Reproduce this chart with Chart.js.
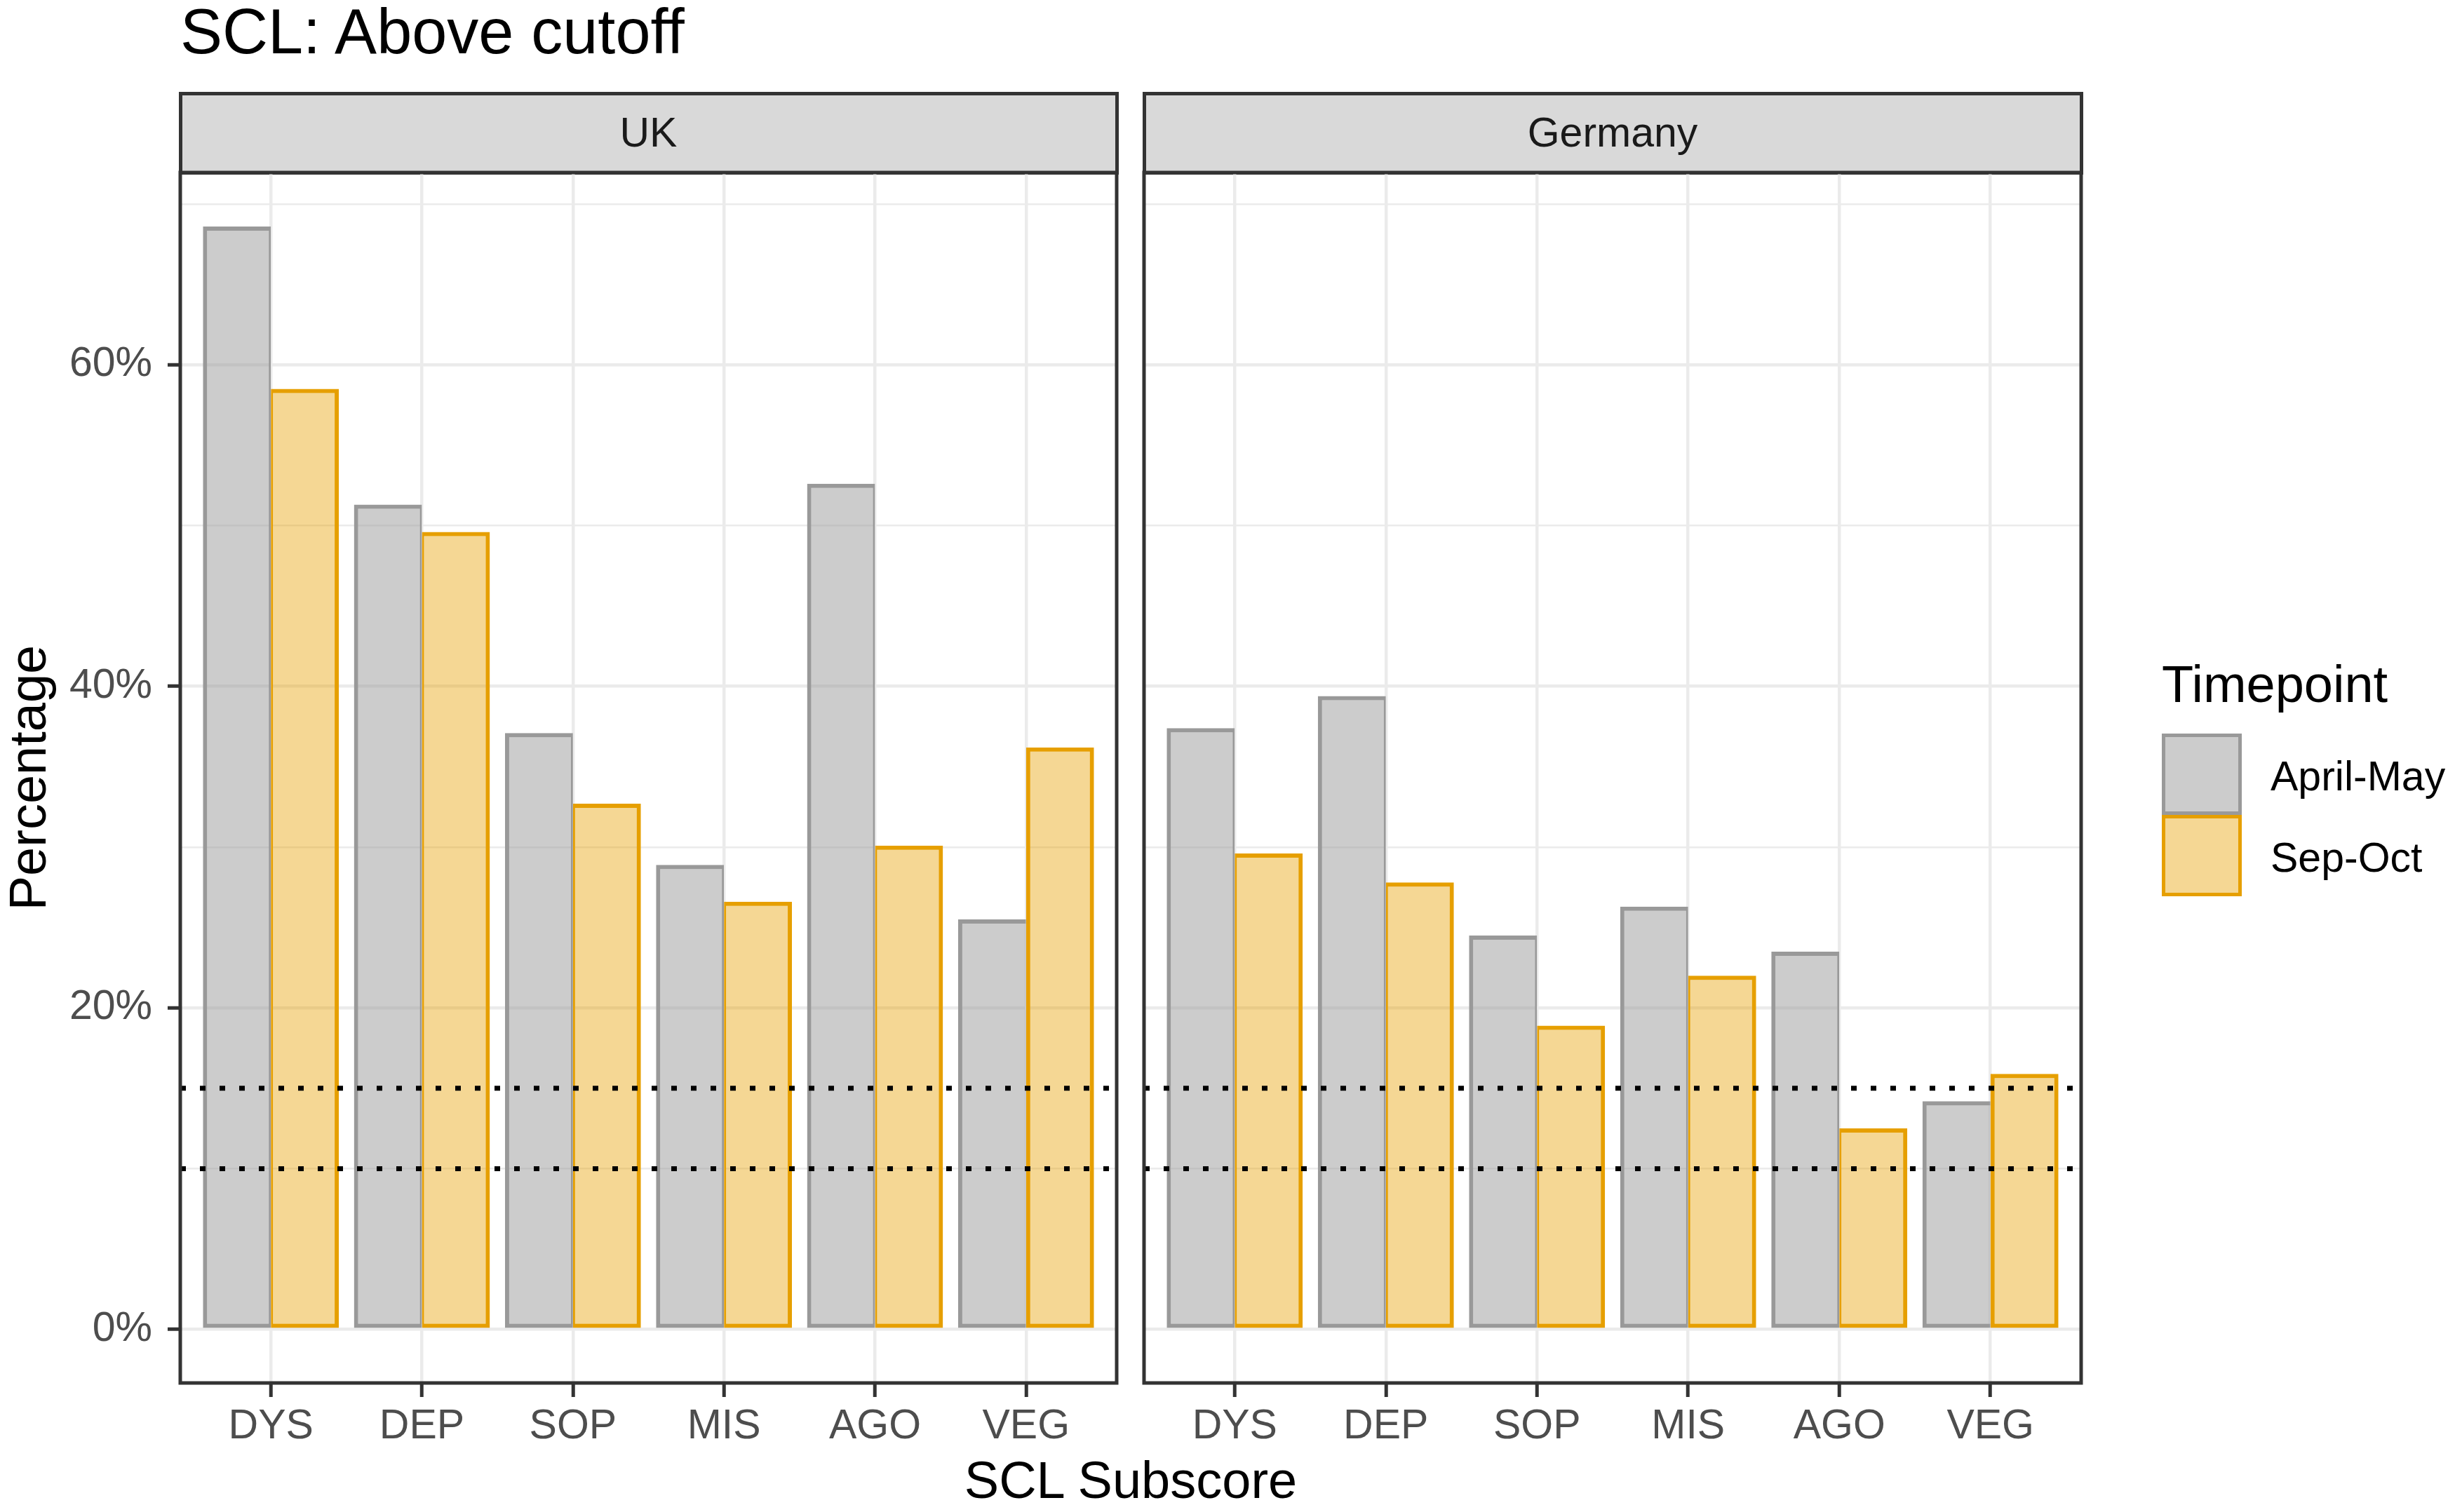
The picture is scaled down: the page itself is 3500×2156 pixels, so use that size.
<!DOCTYPE html>
<html><head><meta charset="utf-8">
<script src="https://cdn.jsdelivr.net/npm/chart.js@4.4.1/dist/chart.umd.min.js"></script>
<style>
html,body{margin:0;padding:0;background:#fff;}
body{width:3500px;height:2156px;position:relative;overflow:hidden;font-family:"Liberation Sans",Arial,sans-serif;}
.t{position:absolute;white-space:nowrap;line-height:1;}
.strip{position:absolute;box-sizing:border-box;border:5px solid #333333;background:#D9D9D9;display:flex;align-items:center;justify-content:center;font-size:59px;color:#1A1A1A;line-height:1;}
canvas{position:absolute;}
.key{position:absolute;box-sizing:border-box;border:5px solid;}
</style></head><body>
<div class="t" style="left:257px;top:0px;font-size:90px;color:#000;">SCL: Above cutoff</div>
<div class="strip" id="stripUK" style="left:254.5px;top:130.5px;width:1340px;height:118px;"></div>
<div class="strip" id="stripDE" style="left:1628.5px;top:130.5px;width:1341px;height:118px;"></div>
<canvas id="uk" width="1600" height="1918" style="left:0px;top:238px;width:1600px;height:1918px;"></canvas>
<canvas id="de" width="1352" height="1918" style="left:1623px;top:238px;width:1352px;height:1918px;"></canvas>
<div class="t" id="xTitle" style="left:1612px;top:2074.4px;font-size:74px;color:#000;transform:translateX(-50%);"></div>
<div class="t" id="legTitle" style="left:3082px;top:939.4px;font-size:74px;color:#000;"></div>
<div class="key" id="key0" style="left:3082px;top:1046px;width:114px;height:116px;"></div>
<div class="key" id="key1" style="left:3082px;top:1162px;width:114px;height:116px;"></div>
<div class="t" id="lab0" style="left:3237px;top:1077.6px;font-size:59px;color:#000;"></div>
<div class="t" id="lab1" style="left:3237px;top:1193.6px;font-size:59px;color:#000;"></div>
<script>
const categories = ['DYS', 'DEP', 'SOP', 'MIS', 'AGO', 'VEG'];
const panelNames = ['UK', 'Germany'];
const seriesNames = ['April-May', 'Sep-Oct'];
const ukAprilMay = [68.6, 51.3, 37.1, 28.9, 52.6, 25.5];
const ukSepOct   = [58.5, 49.6, 32.7, 26.6, 30.1, 36.2];
const deAprilMay = [37.4, 39.4, 24.5, 26.3, 23.5, 14.2];
const deSepOct   = [29.6, 27.8, 18.9, 22.0, 12.5, 15.9];
const yTickValues = [0, 20, 40, 60];
const yMinorValues = [10, 30, 50, 70];
const cutoffLines = [10, 15];
const xAxisTitle = 'SCL Subscore';
const yAxisTitle = 'Percentage';
const legendTitle = 'Timepoint';

const FAMILY = '"Liberation Sans", Arial, sans-serif';
const GREY_FILL = 'rgba(153,153,153,0.5)';
const GREY_LINE = '#999999';
const ORANGE_FILL = 'rgba(230,159,0,0.42)';
const ORANGE_LINE = '#E69F00';

document.getElementById('stripUK').textContent = panelNames[0];
document.getElementById('stripDE').textContent = panelNames[1];
document.getElementById('xTitle').textContent = xAxisTitle;
document.getElementById('legTitle').textContent = legendTitle;
document.getElementById('lab0').textContent = seriesNames[0];
document.getElementById('lab1').textContent = seriesNames[1];
const k0 = document.getElementById('key0'); k0.style.background = GREY_FILL; k0.style.borderColor = GREY_LINE;
const k1 = document.getElementById('key1'); k1.style.background = ORANGE_FILL; k1.style.borderColor = ORANGE_LINE;

Chart.defaults.font.family = FAMILY;

const panelBorder = {
  id: 'panelBorder',
  afterDraw(chart) {
    const {ctx, chartArea: a} = chart;
    ctx.save();
    ctx.strokeStyle = '#333333';
    ctx.lineWidth = 5;
    ctx.strokeRect(a.left, a.top, a.right - a.left, a.bottom - a.top);
    ctx.restore();
  }
};

function makePanel(id, greyVals, orangeVals, showY) {
  const xs = categories.map((_, i) => i + 1);
  const datasets = [];
  cutoffLines.forEach(v => datasets.push({
    type: 'line', data: [{x: 0.4, y: v}, {x: 6.6, y: v}],
    borderColor: '#000000', borderWidth: 7, borderDash: [8, 20],
    pointRadius: 0, fill: false, order: 0
  }));
  datasets.push({
    type: 'bar', label: seriesNames[0],
    data: xs.map((x, i) => ({x: x, y: greyVals[i]})),
    backgroundColor: GREY_FILL, borderColor: GREY_LINE, borderSkipped: false,
    borderWidth: c => ({top: 6, left: 6, bottom: 6, right: orangeVals[c.dataIndex] >= greyVals[c.dataIndex] ? 0 : 3}),
    categoryPercentage: 0.9, barPercentage: 1, order: 1
  });
  datasets.push({
    type: 'bar', label: seriesNames[1],
    data: xs.map((x, i) => ({x: x, y: orangeVals[i]})),
    backgroundColor: ORANGE_FILL, borderColor: ORANGE_LINE, borderSkipped: false,
    borderWidth: c => ({top: 6, right: 6, bottom: 6, left: orangeVals[c.dataIndex] >= greyVals[c.dataIndex] ? 6 : 3}),
    categoryPercentage: 0.9, barPercentage: 1, order: 1
  });
  const font = {family: FAMILY, size: 59};
  const isMajor = c => c.tick && yTickValues.includes(c.tick.value);
  return new Chart(document.getElementById(id), {
    type: 'bar',
    data: {datasets},
    options: {
      responsive: false, animation: false, devicePixelRatio: 1,
      layout: {padding: {top: 8, right: 8, left: showY ? 0 : 8, bottom: 0}},
      plugins: {legend: {display: false}, tooltip: {enabled: false}, title: {display: false}},
      scales: {
        x: {
          type: 'linear', min: 0.4, max: 6.6, offset: false,
          afterBuildTicks: s => { s.ticks = xs.map(v => ({value: v})); },
          afterFit: s => { s.height = 184; s.paddingLeft = 0; s.paddingRight = 0; },
          ticks: {font, color: '#4D4D4D', padding: 7, maxRotation: 0, minRotation: 0, autoSkip: false,
                  callback: v => categories[v - 1]},
          grid: {offset: false, color: '#EBEBEB', lineWidth: 4.5, drawTicks: true, tickLength: 20,
                 tickColor: '#333333', tickWidth: 5},
          border: {display: false}
        },
        y: {
          type: 'linear', min: -3.33, max: 71.96,
          afterBuildTicks: s => { s.ticks = yTickValues.concat(yMinorValues).sort((a, b) => a - b).map(v => ({value: v})); },
          afterFit: s => { s.width = showY ? 257 : 0; s.paddingTop = 0; s.paddingBottom = 0; },
          ticks: {display: showY, font, color: '#4D4D4D', padding: 22, autoSkip: false,
                  callback: v => yTickValues.includes(v) ? v + '%' : ''},
          grid: {color: '#EBEBEB', lineWidth: c => isMajor(c) ? 4.5 : 2.5, drawTicks: showY, tickLength: 18,
                 tickColor: c => isMajor(c) ? '#333333' : 'rgba(0,0,0,0)', tickWidth: 5},
          border: {display: false},
          title: {display: showY, text: yAxisTitle, font: {family: FAMILY, size: 74}, color: '#000000', padding: 0}
        }
      }
    },
    plugins: [panelBorder]
  });
}

makePanel('uk', ukAprilMay, ukSepOct, true);
makePanel('de', deAprilMay, deSepOct, false);
</script>
</body></html>
